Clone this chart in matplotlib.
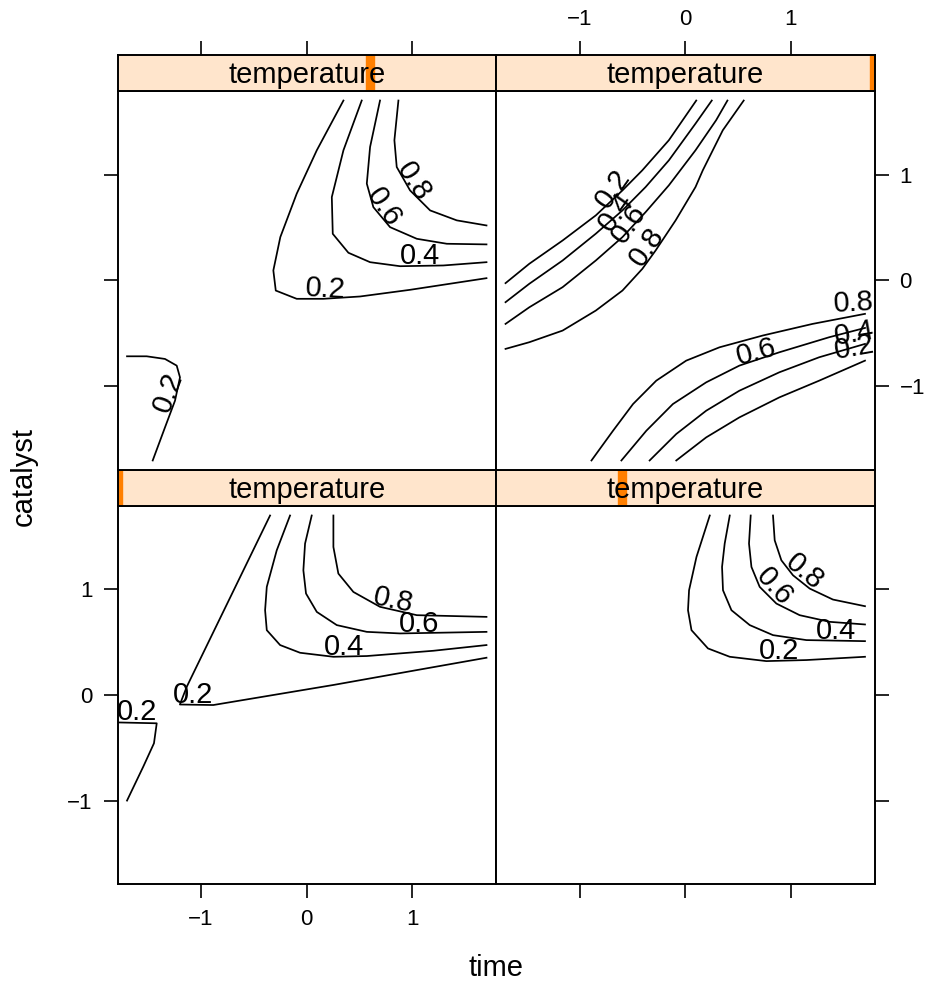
import matplotlib.pyplot as plt

plt.rcParams['font.family'] = ['Liberation Sans', 'DejaVu Sans']

# temperature levels (one panel each), read from the strip indicators
temp_levels = [-1.682, -0.561, 0.561, 1.682]
ticks = [-1, 0, 1]
lim = 1.79

# contour lines per panel: (level, time values, catalyst values)
lines_bl = [
    (0.2, [-0.347, -1.135, -1.20, -0.884, 0.252, 1.041, 1.70],
          [1.70, 0.078, -0.09, -0.095, 0.095, 0.236, 0.353]),
    (0.2, [-1.78, -1.419, -1.445, -1.546, -1.70],
          [-0.26, -0.268, -0.457, -0.678, -1.0]),
    (0.4, [-0.158, -0.284, -0.378, -0.394, -0.378, -0.252, -0.063, 0.252, 0.568, 1.198, 1.70],
          [1.70, 1.370, 1.024, 0.803, 0.614, 0.473, 0.400, 0.362, 0.369, 0.419, 0.473]),
    (0.6, [0.047, -0.016, -0.032, -0.007, 0.095, 0.284, 0.568, 0.883, 1.70],
          [1.70, 1.434, 1.181, 0.961, 0.787, 0.662, 0.598, 0.583, 0.598]),
    (0.8, [0.252, 0.252, 0.299, 0.441, 0.693, 1.041, 1.70],
          [1.70, 1.402, 1.150, 0.976, 0.835, 0.756, 0.740]),
]
lines_br = [
    (0.2, [0.232, 0.106, 0.036, 0.026, 0.059, 0.215, 0.421, 0.767, 1.146, 1.70],
          [1.70, 1.307, 0.992, 0.803, 0.614, 0.441, 0.362, 0.321, 0.331, 0.362]),
    (0.4, [0.421, 0.373, 0.348, 0.357, 0.437, 0.610, 0.830, 1.146, 1.70],
          [1.70, 1.434, 1.213, 0.992, 0.803, 0.662, 0.567, 0.520, 0.510]),
    (0.6, [0.619, 0.603, 0.626, 0.704, 0.862, 1.082, 1.366, 1.70],
          [1.70, 1.434, 1.213, 1.024, 0.866, 0.756, 0.693, 0.668]),
    (0.8, [0.830, 0.846, 0.909, 1.019, 1.177, 1.397, 1.70],
          [1.70, 1.465, 1.276, 1.134, 1.008, 0.904, 0.841]),
]
lines_tl = [
    (0.2, [0.347, 0.095, -0.095, -0.25, -0.316, -0.293, -0.095, 0.157, 0.504, 0.977, 1.70],
          [1.70, 1.23, 0.82, 0.41, 0.095, -0.095, -0.173, -0.173, -0.151, -0.088, 0.022]),
    (0.2, [-1.70, -1.514, -1.341, -1.230, -1.199, -1.246, -1.341, -1.457],
          [-0.716, -0.716, -0.741, -0.804, -0.915, -1.135, -1.388, -1.70]),
    (0.4, [0.52, 0.347, 0.237, 0.246, 0.394, 0.599, 0.883, 1.292, 1.70],
          [1.70, 1.23, 0.788, 0.441, 0.262, 0.173, 0.135, 0.142, 0.173]),
    (0.6, [0.693, 0.599, 0.568, 0.63, 0.788, 1.041, 1.325, 1.70],
          [1.70, 1.261, 0.915, 0.693, 0.504, 0.394, 0.347, 0.341]),
    (0.8, [0.867, 0.829, 0.851, 0.977, 1.167, 1.419, 1.70],
          [1.70, 1.325, 1.072, 0.851, 0.662, 0.568, 0.520]),
]
lines_tr = [
    (0.2, [0.104, -0.155, -0.406, -0.594, -0.846, -1.160, -1.475, -1.70],
          [1.70, 1.325, 1.041, 0.851, 0.615, 0.378, 0.158, -0.025]),
    (0.4, [0.251, 0.097, -0.155, -0.375, -0.594, -0.846, -1.160, -1.475, -1.70],
          [1.70, 1.482, 1.135, 0.883, 0.662, 0.442, 0.189, -0.031, -0.205]),
    (0.6, [0.399, 0.292, 0.097, -0.155, -0.375, -0.594, -0.846, -1.160, -1.475, -1.70],
          [1.70, 1.514, 1.230, 0.899, 0.646, 0.410, 0.189, -0.063, -0.253, -0.410]),
    (0.8, [0.553, 0.355, 0.166, 0.097, -0.091, -0.280, -0.406, -0.594, -0.846, -1.160, -1.475, -1.70],
          [1.70, 1.419, 1.041, 0.883, 0.568, 0.284, 0.110, -0.095, -0.284, -0.473, -0.583, -0.646]),
    (0.8, [-0.887, -0.683, -0.494, -0.274, 0.009, 0.324, 0.732, 1.204, 1.70],
          [-1.70, -1.419, -1.167, -0.946, -0.757, -0.631, -0.520, -0.410, -0.315]),
    (0.6, [-0.604, -0.368, -0.117, 0.198, 0.512, 0.890, 1.361, 1.70],
          [-1.70, -1.419, -1.167, -0.962, -0.804, -0.678, -0.536, -0.448]),
    (0.4, [-0.337, -0.085, 0.198, 0.512, 0.890, 1.267, 1.70],
          [-1.70, -1.450, -1.230, -1.041, -0.867, -0.725, -0.599]),
    (0.2, [-0.085, 0.198, 0.512, 0.890, 1.267, 1.70],
          [-1.70, -1.482, -1.293, -1.104, -0.946, -0.757]),
]

# contour labels per panel: (text, x, y, rotation)
labels_bl = [("0.2", -1.079, 0.0, 0), ("0.2", -1.608, -0.164, 0), ("0.4", 0.356, 0.457, 0),
             ("0.6", 1.065, 0.671, 0), ("0.8", 0.819, 0.898, -12)]
labels_br = [("0.2", 0.887, 0.419, 0), ("0.4", 1.429, 0.605, 0),
             ("0.6", 0.846, 1.024, -48), ("0.8", 1.129, 1.166, -40)]
labels_tl = [("0.2", 0.173, -0.085, -3), ("0.4", 1.072, 0.227, 0), ("0.6", 0.725, 0.693, -56),
             ("0.8", 1.009, 0.93, -57), ("0.2", -1.309, -1.057, 70)]
labels_tr = [("0.2", -0.689, 0.867, 55), ("0.4", -0.658, 0.646, 55), ("0.6", -0.532, 0.536, 55),
             ("0.8", -0.358, 0.315, 55), ("0.8", 1.597, -0.215, 3), ("0.6", 0.670, -0.678, 15),
             ("0.4", 1.597, -0.505, 10), ("0.2", 1.597, -0.637, 10)]

W, H = 932, 988
fig = plt.figure(figsize=(W / 100, H / 100), dpi=100)

col_x = [117.5, 496]
col_w = 378.5
row_panel = [(506, 884), (91, 470)]   # bottom row, top row (pixel top, bottom)
strip_h = 36

panels = [
    (0, 0, lines_bl, labels_bl),
    (1, 0, lines_br, labels_br),
    (0, 1, lines_tl, labels_tl),
    (1, 1, lines_tr, labels_tr),
]

tick_kw = dict(direction='out', length=10, width=1.2, labelsize=16, pad=8)

for i, (col, row, lines, labels) in enumerate(panels):
    x0 = col_x[col] / W
    w = col_w / W
    ptop, pbot = row_panel[row]
    ax = fig.add_axes([x0, 1 - pbot / H, w, (pbot - ptop) / H])
    for lev, xs, ys in lines:
        ax.plot(xs, ys, color='black', lw=1.25)
    for txt, lx, ly, rot in labels:
        ax.text(lx, ly, txt, fontsize=21, rotation=rot, ha='center', va='center',
                rotation_mode='anchor', clip_on=True)
    ax.set_xlim(-lim, lim)
    ax.set_ylim(-lim, lim)
    ax.set_xticks(ticks)
    ax.set_yticks(ticks)
    ax.tick_params(**tick_kw)
    ax.tick_params(top=False, bottom=(row == 0), labelbottom=(row == 0 and col == 0),
                   left=(col == 0), labelleft=(col == 0 and row == 0),
                   right=(col == 1), labelright=(col == 1 and row == 1))
    for s in ax.spines.values():
        s.set_linewidth(1.4)

    # strip
    sax = fig.add_axes([x0, 1 - ptop / H, w, strip_h / H])
    sax.set_facecolor('#FFE5CC')
    sax.set_xlim(-lim, lim)
    sax.set_ylim(0, 1)
    frac = (temp_levels[i] - min(temp_levels)) / (max(temp_levels) - min(temp_levels))
    c = -lim + frac * 2 * lim
    sax.axvspan(c - 0.04, c + 0.04, color='#FF7F00', zorder=1)
    sax.text(0, 0.45, 'temperature', fontsize=21, ha='center', va='center', zorder=3)
    sax.set_yticks([])
    sax.set_xticks(ticks)
    sax.tick_params(**tick_kw)
    sax.tick_params(bottom=False, labelbottom=False, top=(row == 1),
                    labeltop=(row == 1 and col == 1))
    for s in sax.spines.values():
        s.set_linewidth(1.4)

fig.text(496 / W, 1 - 968 / H, 'time', fontsize=21, ha='center', va='center')
fig.text(24 / W, 1 - 476 / H, 'catalyst', fontsize=21, ha='center', va='center', rotation=90)

fig.savefig('out.png', dpi=100)
